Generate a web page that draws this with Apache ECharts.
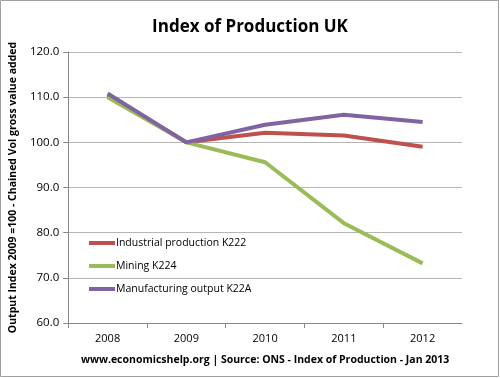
<!DOCTYPE html>
<html><head><meta charset="utf-8">
<script src="https://cdn.jsdelivr.net/npm/echarts@6/dist/echarts.min.js"></script>
<style>html,body{margin:0;padding:0;background:#fff}#c{width:500px;height:378px}</style>
</head><body><div id="c"></div>
<script>
var years = ['2008','2009','2010','2011','2012'];
var industrial = [110.5, 100.0, 102.1, 101.5, 99.0];
var mining = [110.0, 100.0, 95.6, 82.1, 73.2];
var manufacturing = [110.8, 100.0, 103.9, 106.1, 104.5];
var yTicks = {min: 60, max: 120, interval: 10};

var font = '"Open Sans", "Noto Sans", sans-serif';
var chart = echarts.init(document.getElementById('c'));
function s(name, data, color) {
  return {name: name, type: 'line', data: data, symbol: 'none', z: 3,
    lineStyle: {width: 4, color: color}, itemStyle: {color: color}};
}
chart.setOption({
  animation: false,
  graphic: [{type: 'rect', shape: {x: 0.5, y: 0.5, width: 498, height: 376},
    style: {fill: 'none', stroke: '#a0a0a0', lineWidth: 1}, silent: true}],
  title: {text: 'Index of Production UK', left: 'center', top: 14,
    textStyle: {fontFamily: font, fontSize: 17, fontWeight: 'bold', color: '#000'}},
  grid: {left: 63, right: 38, top: 52, bottom: 55},
  legend: {orient: 'vertical', left: 89, top: 236, padding: 0, itemWidth: 26, itemHeight: 4, itemGap: 9,
    icon: 'rect', textStyle: {fontFamily: font, fontSize: 10.5, lineHeight: 14, color: '#000', padding: [0,0,0,-4]},
    data: ['Industrial production K222', 'Mining K224', 'Manufacturing output K22A']},
  xAxis: {type: 'category', data: years, boundaryGap: true,
    axisLine: {lineStyle: {color: '#888'}}, axisTick: {show: true, length: 5, lineStyle: {color: '#888'}},
    axisLabel: {fontFamily: font, fontSize: 11, color: '#000', margin: 10},
    name: 'www.economicshelp.org | Source: ONS - Index of Production - Jan 2013',
    nameLocation: 'middle', nameGap: 32,
    nameTextStyle: {fontFamily: font, fontSize: 10.5, fontWeight: 'bold', color: '#000'}},
  yAxis: {type: 'value', min: yTicks.min, max: yTicks.max, interval: yTicks.interval,
    axisLine: {show: true, lineStyle: {color: '#888'}}, axisTick: {show: true, length: 5, inside: false, lineStyle: {color: '#888'}},
    splitLine: {lineStyle: {color: '#b5b5b5'}},
    axisLabel: {fontFamily: font, fontSize: 11.5, color: '#000', margin: 9,
      formatter: function (v) { return v.toFixed(1); }},
    name: 'Output Index 2009 =100 - Chained Vol gross value added',
    nameLocation: 'middle', nameGap: 41, nameRotate: 90,
    nameTextStyle: {fontFamily: font, fontSize: 10.5, fontWeight: 'bold', color: '#000'}},
  series: [
    s('Industrial production K222', industrial, '#C0504D'),
    s('Mining K224', mining, '#9BBB59'),
    s('Manufacturing output K22A', manufacturing, '#8064A2')
  ]
});
</script></body></html>
